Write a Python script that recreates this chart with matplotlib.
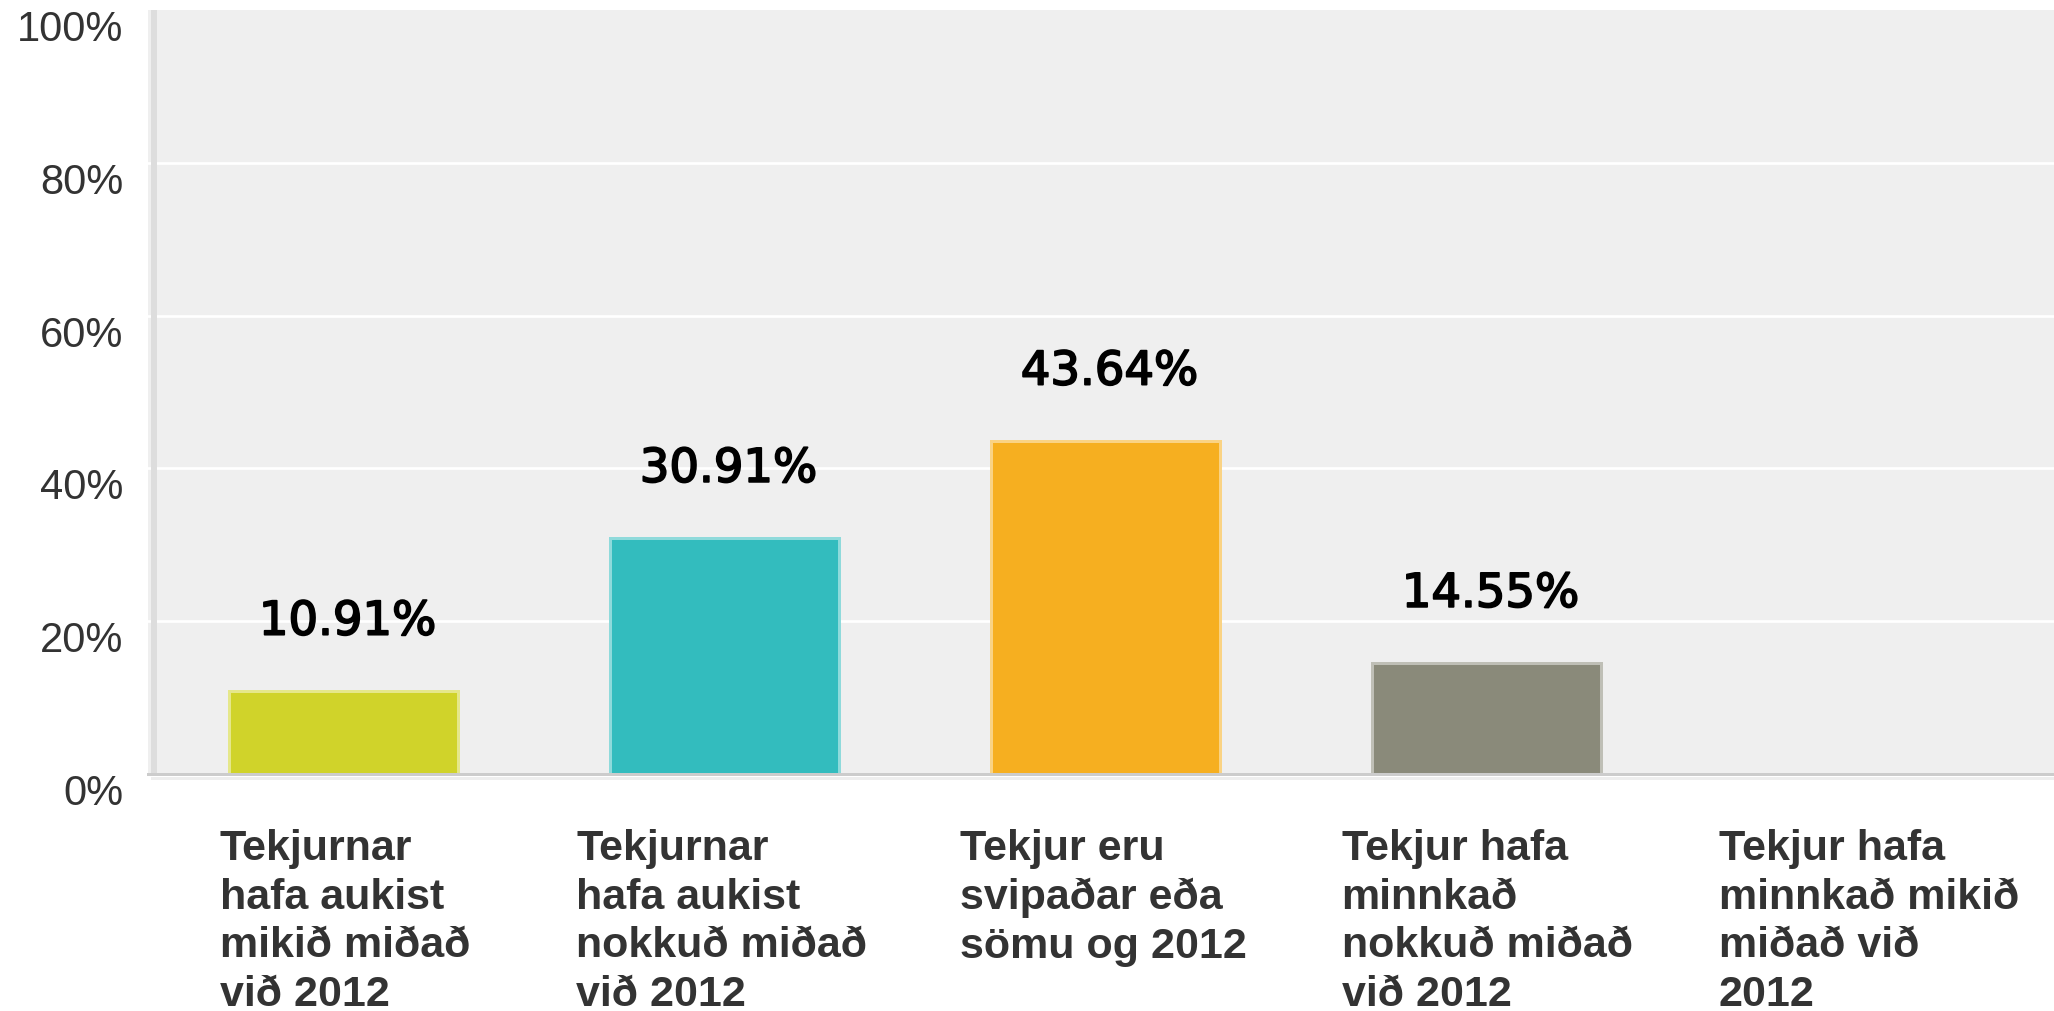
import matplotlib
matplotlib.use("Agg")
import matplotlib.pyplot as plt
import matplotlib.patheffects as pe
from matplotlib.patches import Rectangle
from matplotlib.lines import Line2D
from matplotlib.colors import to_rgb

# ---------------- data ----------------
categories = [
    "Tekjurnar\nhafa aukist\nmikið miðað\nvið 2012",
    "Tekjurnar\nhafa aukist\nnokkuð miðað\nvið 2012",
    "Tekjur eru\nsvipaðar eða\nsömu og 2012",
    "Tekjur hafa\nminnkað\nnokkuð miðað\nvið 2012",
    "Tekjur hafa\nminnkað mikið\nmiðað við\n2012",
]
values = [10.91, 30.91, 43.64, 14.55, 0.0]
value_labels = ["10.91%", "30.91%", "43.64%", "14.55%", ""]
yticks = [0, 20, 40, 60, 80, 100]
ytick_labels = ["0%", "20%", "40%", "60%", "80%", "100%"]

# ---------------- style / layout ----------------
bar_colors = ["#D0D32A", "#33BCBE", "#F6AF20", "#8A8A7A", "#8A8A7A"]
W, H, DPI = 2054, 1011, 100
PX = 72.0 / DPI  # points per pixel
label_dx_px = [-124, -148, -145, -145, -149]  # category label left offsets from bar centre

fig = plt.figure(figsize=(W / DPI, H / DPI), dpi=DPI)
fig.patch.set_facecolor("white")
ax_left, ax_bottom, ax_top = 148, 774, 10
ax = fig.add_axes([ax_left / W, (H - ax_bottom) / H, (W - ax_left) / W, (ax_bottom - ax_top) / H])
ax.set_facecolor("#efefef")

slot = 381.0
first_center = 343.5
ax.set_xlim((ax_left - first_center) / slot, (W - first_center) / slot)
ax.set_ylim(0, 100)

x = list(range(len(categories)))
edge_cols = [tuple(0.55 * c + 0.45 for c in to_rgb(col)) for col in bar_colors]
ax.bar(x, values, width=229 / slot, color=bar_colors, edgecolor=edge_cols,
       linewidth=3.0 * PX, zorder=2)

# grid
ax.set_yticks(yticks)
ax.set_yticklabels(ytick_labels, fontsize=30, family="Liberation Sans",
                   color="#333333", va="top")
ax.tick_params(axis="y", length=0, pad=24.5 * PX)
ax.set_xticks([])
ax.yaxis.grid(True, color="white", linewidth=2.7 * PX)
ax.set_axisbelow(True)
gl = ax.get_ygridlines()
gl[0].set_visible(False)
gl[-1].set_visible(False)

for s in ["top", "right", "left"]:
    ax.spines[s].set_visible(False)
ax.spines["bottom"].set_color("#cccccc")
ax.spines["bottom"].set_linewidth(3 * PX)
ax.spines["bottom"].set_zorder(3)

# left darker stripe
ax.add_patch(Rectangle((3 / (W - ax_left), 0), 6 / (W - ax_left), 1,
                       transform=ax.transAxes, facecolor="#dddddd",
                       edgecolor="none", zorder=0.8))
# faint line below the axis
fig.add_artist(Line2D([(ax_left + 4) / W, 1], [(H - 777.5) / H] * 2,
                      transform=fig.transFigure, color="#eeeeee",
                      linewidth=3 * PX))

# value labels
for xi, v, lab in zip(x, values, value_labels):
    if not lab:
        continue
    ax.annotate(lab, xy=(xi, v), xytext=(4 * PX, 56 * PX),
                textcoords="offset points", ha="center", va="baseline",
                fontsize=33.5, family="DejaVu Sans", color="black",
                path_effects=[pe.withStroke(linewidth=1.3, foreground="black")],
                zorder=4)

# category labels
for xi, cat, dx in zip(x, categories, label_dx_px):
    ax.annotate(cat, xy=(xi, 0), xycoords=("data", "axes fraction"),
                xytext=(dx * PX, -55 * PX), textcoords="offset points",
                ha="left", va="top", fontsize=31, family="Liberation Sans",
                weight="bold", color="#333333", linespacing=1.28,
                annotation_clip=False)

fig.savefig("out.png", dpi=DPI, facecolor="white")
